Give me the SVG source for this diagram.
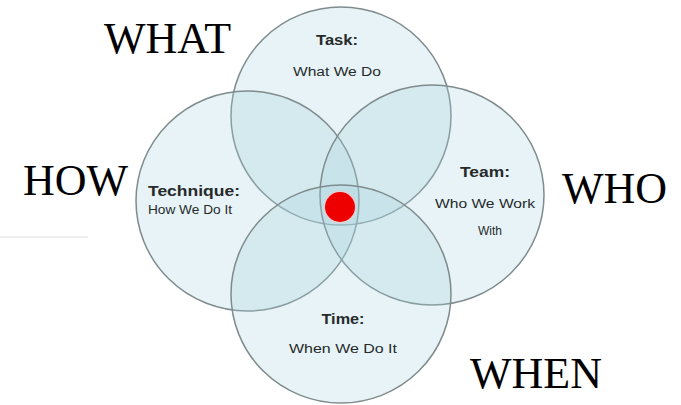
<svg xmlns="http://www.w3.org/2000/svg" width="681" height="405" viewBox="0 0 681 405">
<style>
.c{fill:#a8d4dc;fill-opacity:0.27;stroke:#7f8b8c;stroke-width:1.5}
.h{font-family:"Liberation Sans",Arial,sans-serif;font-weight:bold;font-size:14px;fill:#262a2b;text-anchor:middle}
.s{font-family:"Liberation Sans",Arial,sans-serif;font-size:12.5px;fill:#262a2b;text-anchor:middle}
.big{font-family:"Liberation Serif","Times New Roman",serif;font-size:44px;fill:#000}
</style>
<rect width="681" height="405" fill="#fff"/>
<g id="decor"><line x1="0" y1="237" x2="88" y2="237" stroke="#dcdcdc" stroke-width="1"/></g>
<g id="task"><ellipse class="c" cx="341" cy="116" rx="110" ry="109"/>
<text class="h" x="337" y="45" textLength="42" lengthAdjust="spacingAndGlyphs">Task:</text>
<text class="s" x="337" y="76" textLength="88" lengthAdjust="spacingAndGlyphs">What We Do</text></g>
<g id="technique"><ellipse class="c" cx="247.5" cy="201" rx="111.5" ry="110"/>
<text class="h" x="194" y="196" textLength="92" lengthAdjust="spacingAndGlyphs">Technique:</text>
<text class="s" x="190" y="214" textLength="84" lengthAdjust="spacingAndGlyphs">How We Do It</text></g>
<g id="team"><ellipse class="c" cx="432" cy="195" rx="112" ry="110"/>
<text class="h" x="485" y="177" textLength="50" lengthAdjust="spacingAndGlyphs">Team:</text>
<text class="s" x="485" y="208" textLength="100" lengthAdjust="spacingAndGlyphs">Who We Work</text>
<text class="s" x="490" y="235" textLength="24" lengthAdjust="spacingAndGlyphs">With</text></g>
<g id="time"><ellipse class="c" cx="341" cy="294" rx="110" ry="109"/>
<text class="h" x="343" y="324" textLength="43" lengthAdjust="spacingAndGlyphs">Time:</text>
<text class="s" x="343" y="353" textLength="108" lengthAdjust="spacingAndGlyphs">When We Do It</text></g>
<g id="center"><circle cx="340" cy="207" r="16.5" fill="#f7c9c9" fill-opacity="0.6"/><circle cx="340" cy="207" r="15" fill="#ee0000"/></g>
<g id="labels">
<text class="big" x="104" y="53">WHAT</text>
<text class="big" x="23" y="195">HOW</text>
<text class="big" x="562" y="203">WHO</text>
<text class="big" x="470" y="388">WHEN</text>
</g>
<g id="connectors"/>
</svg>
